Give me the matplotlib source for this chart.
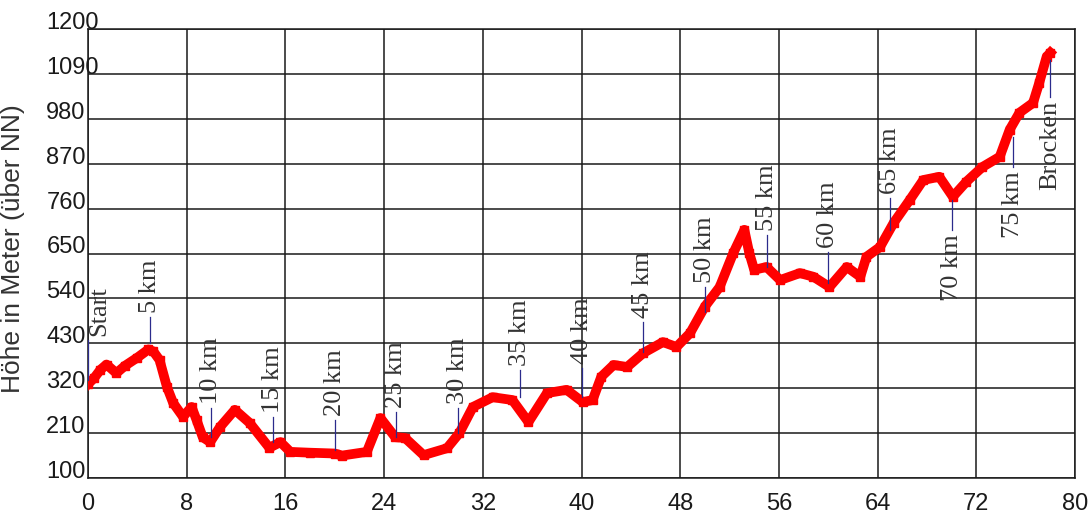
import matplotlib
matplotlib.use('Agg')
import matplotlib.pyplot as plt

# Höhenprofil
km = [0, 0.5, 1.0, 1.5, 2.3, 3.0, 4.0, 4.9, 5.3, 5.8, 6.4, 6.9, 7.7, 8.4, 8.8,
      9.3, 9.9, 10.7, 11.9, 13.1, 14.7, 15.6, 16.4, 18.0, 20.0, 20.6, 22.6,
      23.7, 24.9, 25.7, 27.2, 29.1, 30.1, 31.2, 32.8, 34.4, 35.7, 37.2, 38.8,
      40.1, 40.9, 41.6, 42.6, 43.7, 45.0, 46.6, 47.7, 48.8, 50.0, 51.2, 52.3,
      53.2, 53.6, 54.0, 55.0, 56.1, 57.7, 58.8, 60.1, 61.5, 62.6, 63.1, 64.2,
      65.3, 66.6, 67.7, 69.0, 70.1, 71.2, 72.5, 73.9, 74.7, 75.5, 76.6, 77.1,
      77.7, 78.0]
elev = [330, 345, 365, 378, 357, 375, 395, 415, 410, 389, 323, 284, 250, 274,
        242, 200, 188, 225, 267, 235, 174, 188, 164, 162, 160, 155, 164, 247,
        200, 198, 156, 173, 210, 274, 298, 291, 237, 308, 316, 286, 291, 348,
        377, 372, 406, 433, 421, 455, 520, 568, 651, 708, 651, 610, 617, 585,
        602, 593, 568, 617, 593, 642, 666, 725, 781, 830, 838, 789, 826, 862,
        887, 953, 995, 1019, 1068, 1132, 1142]

# Kilometermarken: Position, Linie von (Kurve) bis (Beschriftung)
mark_names = ['Start', '5 km', '10 km', '15 km', '20 km', '25 km', '30 km',
              '35 km', '40 km', '45 km', '50 km', '55 km', '60 km', '65 km',
              '70 km', '75 km', 'Brocken']
mark_km = [0, 5, 10, 15, 20, 25, 30, 35, 40, 45, 50, 55, 60, 65, 70, 75, 78]
mark_from = [340, 431, 200, 188, 169, 200, 210, 299, 299, 409, 507, 617, 578,
             708, 781, 936, 1124]
mark_to = [438, 495, 272, 250, 242, 262, 272, 365, 370, 482, 568, 696, 654,
           786, 708, 862, 1034]

x_ticks = list(range(0, 81, 8))
y_ticks = list(range(100, 1201, 110))

fig = plt.figure(figsize=(10.88, 5.2), dpi=100)
ax = fig.add_axes([88 / 1088, 42 / 520, 987 / 1088, 449 / 520])

ax.plot(km, elev, color='red', lw=7, marker='s', ms=6, zorder=3)

for name, k, lo, hi in zip(mark_names, mark_km, mark_from, mark_to):
    ax.plot([k, k], [lo, hi], color='#2b2b8c', lw=0.9, zorder=4)
    up = hi > lo
    dx = 8 if k == 0 else 0
    ax.annotate(name, xy=(k, hi), xytext=(dx, 3 if up else -3),
                textcoords='offset points', rotation=90, ha='center',
                va='bottom' if up else 'top', fontsize=19,
                family='Liberation Serif', color='#333333', zorder=5)

ax.set_xlim(0, 80)
ax.set_ylim(100, 1200)
ax.set_xticks(x_ticks)
ax.set_yticks(y_ticks)
ax.grid(color='#1a1a1a', lw=1.1)
ax.set_axisbelow(True)
for s in ax.spines.values():
    s.set_color('#1a1a1a')
    s.set_linewidth(1.1)

ax.tick_params(length=0, labelsize=17, labelcolor='#1a1a1a')
ax.tick_params(axis='x', pad=11)
ax.tick_params(axis='y', pad=30)
for lbl in ax.get_xticklabels() + ax.get_yticklabels():
    lbl.set_family('Liberation Sans')
for lbl in ax.get_yticklabels():
    lbl.set_ha('left')
    lbl.set_va('baseline')

ax.set_ylabel('Höhe in Meter (über NN)', fontsize=19,
              family='Liberation Sans', color='#333333')
ax.yaxis.set_label_coords(-0.064, 0.51)

fig.savefig('out.png', dpi=100)
